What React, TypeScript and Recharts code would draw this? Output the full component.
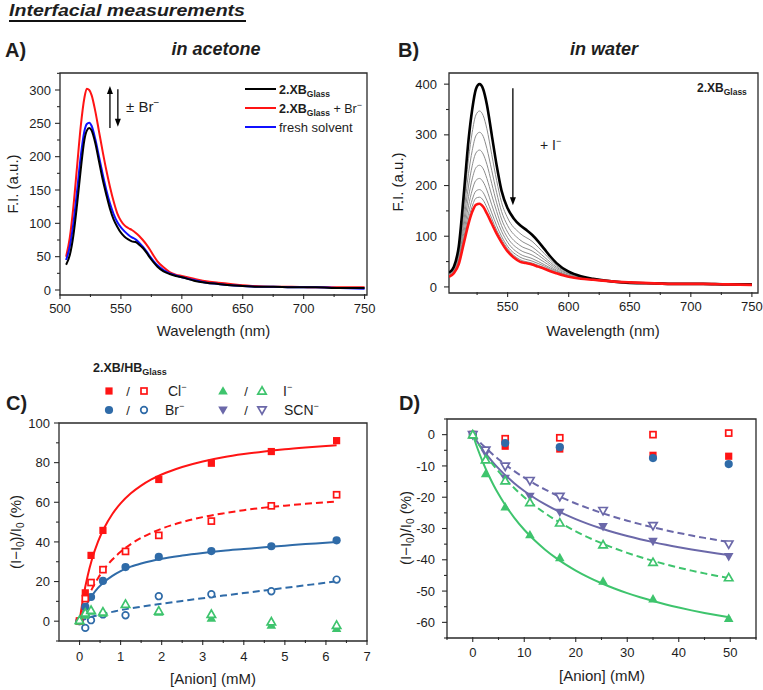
import React from 'react';
import { ComposedChart, Line, Scatter, XAxis, YAxis, ReferenceArea, ReferenceLine } from 'recharts';

const FONT = '"Liberation Sans", Arial, Helvetica, sans-serif';
const INK = '#1e1e1e';
const AXIS = '#2a2a2a';
const RED = '#ff1414';
const BLUE = '#2f6ba8';
const GREEN = '#3ec46d';
const PURPLE = '#6b68a9';
const GREY = '#8c8c8c';

// ---------- A) film emission in acetone ----------
const acetoneNm = [505, 508, 511, 514, 517, 520, 522, 524, 526, 529, 532, 535, 538, 541, 544, 547, 550, 553, 556, 559, 562, 565, 568, 571, 574, 577, 580, 585, 590, 595, 600, 610, 620, 630, 640, 650, 660, 675, 690, 710, 730, 750];
const acetoneFilm = [38, 52, 82, 128, 180, 225, 239, 243, 239, 220, 193, 166, 143, 122, 106, 95, 86, 80, 76, 73, 72, 68, 63, 56, 48, 41, 35, 28, 24, 21, 19, 14, 11, 9, 7, 6, 5, 5, 4, 4, 3, 3];
const acetoneFilmBr = [50, 78, 125, 185, 245, 288, 302, 300, 292, 268, 238, 208, 180, 155, 133, 115, 104, 97, 93, 90, 86, 81, 75, 68, 60, 51, 43, 34, 27, 23, 21, 17, 13, 11, 9, 7, 6, 5, 5, 4, 4, 4];
const acetoneFresh = [45, 65, 100, 148, 200, 238, 249, 251, 246, 226, 200, 174, 150, 130, 114, 102, 94, 88, 83, 79, 76, 71, 65, 58, 50, 43, 37, 30, 25, 22, 19, 15, 11, 9, 7, 6, 5, 5, 4, 4, 3, 2];
const acetoneXMajor = [500, 550, 600, 650, 700, 750];
const acetoneXMinor = [525, 575, 625, 675, 725];
const acetoneYMajor = [0, 50, 100, 150, 200, 250, 300];
const acetoneYMinor = [25, 75, 125, 175, 225, 275, 325];

// ---------- B) iodide titration in water ----------
const waterNm = [502, 506, 510, 514, 518, 521, 524, 527, 530, 533, 537, 541, 545, 550, 555, 560, 565, 570, 575, 580, 585, 590, 600, 610, 620, 635, 650, 670, 690, 710, 730, 750];
const waterStart = [28, 40, 80, 180, 290, 350, 390, 400, 390, 360, 300, 240, 190, 155, 135, 122, 113, 103, 90, 75, 60, 47, 30, 21, 16, 11, 8, 7, 6, 6, 5, 5];
const waterEnd = [20, 27, 45, 85, 125, 148, 162, 164, 158, 145, 125, 105, 88, 70, 58, 50, 47, 44, 40, 36, 31, 27, 20, 16, 14, 11, 9, 7, 6, 6, 5, 4];
const waterStepNm = [502, 506, 510, 514, 518, 521, 524, 527, 530, 533, 537, 541, 545, 550, 560, 570, 580, 590, 600, 620, 650, 700, 750];
const waterSteps = [
  [26, 37, 72, 159, 253, 305, 339, 347, 338, 312, 261, 210, 167, 136, 106, 90, 66, 42, 28, 16, 9, 6, 5],
  [25, 35, 66, 142, 224, 269, 298, 305, 297, 273, 230, 186, 149, 121, 93, 79, 59, 39, 26, 15, 9, 6, 5],
  [24, 33, 61, 128, 199, 239, 264, 270, 262, 242, 204, 166, 134, 108, 82, 71, 54, 36, 25, 15, 9, 6, 5],
  [23, 31, 56, 116, 178, 213, 235, 240, 233, 214, 181, 149, 121, 97, 73, 63, 49, 33, 23, 14, 9, 6, 5],
  [22, 30, 52, 105, 160, 191, 210, 214, 207, 191, 162, 134, 110, 88, 65, 56, 44, 31, 22, 14, 9, 6, 5],
  [21, 29, 49, 96, 145, 172, 189, 192, 186, 171, 146, 121, 100, 80, 59, 51, 41, 29, 21, 14, 9, 6, 4],
  [20, 28, 47, 90, 134, 159, 175, 177, 171, 157, 135, 112, 94, 75, 54, 47, 38, 28, 21, 14, 9, 6, 4],
];
const waterXMajor = [550, 600, 650, 700, 750];
const waterXMinor = [525, 575, 625, 675, 725];
const waterYMajor = [0, 100, 200, 300, 400];
const waterYMinor = [50, 150, 250, 350];

// ---------- C) halide binding in acetone ----------
const concC = [0, 0.14, 0.28, 0.57, 1.12, 1.93, 3.21, 4.67, 6.26];
const clXB_C = [0, 14.3, 33.2, 45.8, null, 71.5, 79.7, 85.6, 91.1];
const clHB_C = [0, 11.4, 19.5, 26, 35.2, 43.3, 50.5, 58.2, 63.8];
const brXB_C = [0, 7.2, 12.2, 20.3, 27.3, 32.4, 35.4, 37.8, 40.8];
const brHB_C = [0, -3.4, 0.5, 3.4, 3.0, 12.6, 13.6, 15.1, 21];
const iXB_C = [0, 3, 5, 4, 8.5, 4.5, 1.5, -2, -3.7];
const iHB_C = [0.5, 4.2, 5.5, 4.7, 8.6, 5.2, 3.5, -0.3, -2];
const fitConcC = [0, 0.1, 0.2, 0.3, 0.45, 0.6, 0.8, 1.0, 1.25, 1.5, 1.75, 2.0, 2.5, 3.0, 3.5, 4.0, 4.5, 5.0, 5.5, 6.0, 6.26];
const clXBFit = [0, 13.1, 23.1, 31.0, 40.1, 47.0, 54.1, 59.4, 64.5, 68.4, 71.5, 74.0, 77.8, 80.6, 82.7, 84.3, 85.6, 86.7, 87.6, 88.4, 88.8];
const clHBFit = [0, 6.4, 11.7, 16.2, 21.7, 26.3, 31.1, 35.0, 38.9, 42.0, 44.5, 46.7, 50.0, 52.5, 54.4, 56.0, 57.3, 58.3, 59.2, 60.0, 60.4];
const brXBFit = [0, 5.5, 9.5, 12.8, 16.8, 19.8, 22.9, 25.3, 27.5, 29.1, 30.4, 31.5, 33.1, 34.4, 35.5, 36.4, 37.3, 38.1, 38.9, 39.6, 40.0];
const brHBFit = [0, 0.8, 1.5, 2.2, 3.0, 3.8, 4.7, 5.6, 6.5, 7.3, 8.1, 8.8, 10.2, 11.6, 12.9, 14.2, 15.5, 16.8, 18.1, 19.4, 20.1];
const concCXMajor = [0, 1, 2, 3, 4, 5, 6, 7];
const concCXMinor = [0.5, 1.5, 2.5, 3.5, 4.5, 5.5, 6.5];
const concCYMajor = [0, 20, 40, 60, 80, 100];
const concCYMinor = [-10, 10, 30, 50, 70, 90];

// ---------- D) anion binding in water ----------
const concDHalide = [0, 6.3, 16.9, 35, 49.7];
const clXB_D = [0, -3.7, -4.6, -6.6, -6.9];
const clHB_D = [0, -1.3, -1.0, 0, 0.5];
const brXB_D = [0, -2.7, -4.0, -7.5, -9.4];
const concD = [0, 2.5, 6.3, 11.1, 16.9, 25.3, 35, 49.7];
const scnXB_D = [0, -6, -14, -19.7, -24.8, -29.4, -34.1, -39];
const scnHB_D = [0, -5.0, -10.1, -14.7, -19.8, -24.3, -29.1, -35];
const iXB_D = [0, -12.5, -23.1, -32, -39.3, -46.8, -52.5, -58.7];
const iHB_D = [0, -8, -14.7, -21.7, -28.2, -35.2, -40.8, -45.7];
const fitConcD = [0, 1, 2, 3, 4, 5, 6, 8, 10, 12, 14, 16, 18, 20, 22.5, 25, 27.5, 30, 32.5, 35, 37.5, 40, 42.5, 45, 47.5, 50];
const iXBFit = [0, -4.75, -8.94, -12.67, -16.0, -19.0, -21.71, -26.43, -30.4, -33.78, -36.69, -39.23, -41.45, -43.43, -45.6, -47.5, -49.18, -50.67, -52.0, -53.2, -54.29, -55.27, -56.17, -57.0, -57.76, -58.46];
const iHBFit = [0, -2.72, -5.23, -7.56, -9.71, -11.72, -13.6, -17.0, -20.0, -22.67, -25.05, -27.2, -29.14, -30.91, -32.9, -34.69, -36.31, -37.78, -39.12, -40.34, -41.46, -42.5, -43.46, -44.35, -45.17, -45.95];
const scnXBFit = [0, -2.57, -4.91, -7.04, -9.0, -10.8, -12.46, -15.43, -18.0, -20.25, -22.24, -24.0, -25.58, -27.0, -28.59, -30.0, -31.26, -32.4, -33.43, -34.36, -35.22, -36.0, -36.72, -37.38, -38.0, -38.57];
const scnHBFit = [0, -1.77, -3.44, -5.0, -6.47, -7.86, -9.17, -11.58, -13.75, -15.71, -17.5, -19.13, -20.63, -22.0, -23.57, -25.0, -26.3, -27.5, -28.6, -29.62, -30.56, -31.43, -32.24, -33.0, -33.71, -34.38];
const concDXMajor = [0, 10, 20, 30, 40, 50];
const concDXMinor = [-5, 5, 15, 25, 35, 45, 55];
const concDYMajor = [0, -10, -20, -30, -40, -50, -60];
const concDYMinor = [5, -5, -15, -25, -35, -45, -55, -65];

type Pt = { x: number; y: number };
const pairs = (xs: number[], ys: (number | null)[]): Pt[] =>
  xs.map((x, i) => ({ x, y: ys[i] as number })).filter((p) => p.y !== null && p.y !== undefined);

// Axes are 1px thick boxes; the tick callback gets the outer edge, so the
// bottom axis shifts back by that pixel to sit on the plot border.
const makeTick = (majors: number[], orient: 'x' | 'y', labelGap: number) => (props: any) => {
  const { x, payload } = props;
  const v = payload.value as number;
  const major = majors.some((m) => Math.abs(m - v) < 1e-9);
  const len = major ? 5 : 3;
  if (orient === 'x') {
    const y = props.y - 1;
    return (
      <g>
        <line x1={x} x2={x} y1={y} y2={y + len} stroke={AXIS} strokeWidth={1.1} />
        {major && (
          <text x={x} y={y + labelGap} textAnchor="middle" fontSize={13} fontFamily={FONT} fill={INK}>
            {String(v)}
          </text>
        )}
      </g>
    );
  }
  const y = props.y;
  return (
    <g>
      <line x1={x} x2={x - len} y1={y} y2={y} stroke={AXIS} strokeWidth={1.1} />
      {major && (
        <text x={x - labelGap} y={y + 4.6} textAnchor="end" fontSize={13} fontFamily={FONT} fill={INK}>
          {String(v)}
        </text>
      )}
    </g>
  );
};

type Kind = 'square' | 'circle' | 'up' | 'down';
const Marker = ({ cx, cy, kind, color, filled, s = 1 }: { cx?: number; cy?: number; kind: Kind; color: string; filled: boolean; s?: number }) => {
  if (cx == null || cy == null) return null;
  const fill = filled ? color : '#ffffff';
  const stroke = filled ? 'none' : color;
  const sw = filled ? 0 : 1.7;
  if (kind === 'square') {
    const h = (filled ? 3.6 : 3.0) * s;
    return <rect x={cx - h} y={cy - h} width={2 * h} height={2 * h} fill={fill} stroke={stroke} strokeWidth={sw} />;
  }
  if (kind === 'circle') {
    return <circle cx={cx} cy={cy} r={(filled ? 4.1 : 3.3) * s} fill={fill} stroke={stroke} strokeWidth={sw} />;
  }
  const a = (filled ? 4.8 : 4.2) * s;
  const d = kind === 'up' ? 1 : -1;
  const pts = `${cx},${cy - d * a} ${cx - a},${cy + d * a * 0.75} ${cx + a},${cy + d * a * 0.75}`;
  return <polygon points={pts} fill={fill} stroke={stroke} strokeWidth={sw} strokeLinejoin="miter" />;
};

const shapeOf = (kind: Kind, color: string, filled: boolean) => (p: any) => (
  <Marker cx={p.cx} cy={p.cy} kind={kind} color={color} filled={filled} />
);

const Arrow = (p: any) => {
  const { x1, y1, x2, y2 } = p;
  const dir = y2 < y1 ? -1 : 1;
  return (
    <g>
      <line x1={x1} y1={y1} x2={x2} y2={y2 - dir * 6} stroke="#000" strokeWidth={1.3} />
      <polygon points={`${x2},${y2} ${x2 - 3},${y2 - dir * 8} ${x2 + 3},${y2 - dir * 8}`} fill="#000" />
    </g>
  );
};

type AxesSpec = {
  xd: [number, number];
  yd: [number, number];
  xMajor: number[];
  xMinor: number[];
  yMajor: number[];
  yMinor: number[];
  xGap: number;
  yGap: number;
};

const axes = (a: AxesSpec) => [
  <XAxis
    key="xa"
    type="number"
    dataKey="x"
    domain={a.xd}
    allowDataOverflow
    ticks={[...a.xMajor, ...a.xMinor]}
    interval={0}
    height={1}
    tickSize={0}
    tickMargin={0}
    tickLine={false}
    axisLine={false}
    tick={makeTick(a.xMajor, 'x', a.xGap)}
  />,
  <YAxis
    key="ya"
    type="number"
    dataKey="y"
    domain={a.yd}
    allowDataOverflow
    ticks={[...a.yMajor, ...a.yMinor]}
    interval={0}
    width={1}
    tickSize={0}
    tickMargin={0}
    tickLine={false}
    axisLine={false}
    tick={makeTick(a.yMajor, 'y', a.yGap)}
  />,
  <ReferenceArea
    key="frame"
    x1={a.xd[0]}
    x2={a.xd[1]}
    y1={a.yd[0]}
    y2={a.yd[1]}
    fill="none"
    fillOpacity={0}
    stroke={AXIS}
    strokeWidth={1.3}
    ifOverflow="visible"
  />,
];

const Box = ({ left, top, children }: { left: number; top: number; children: React.ReactNode }) => (
  <div style={{ position: 'absolute', left, top }}>{children}</div>
);

const lineProps = { dataKey: 'y', dot: false, activeDot: false, isAnimationActive: false, type: 'monotone' as const };

function PanelA() {
  const spec: AxesSpec = {
    xd: [500, 752], yd: [-7.5, 325.5],
    xMajor: acetoneXMajor, xMinor: acetoneXMinor, yMajor: acetoneYMajor, yMinor: acetoneYMinor,
    xGap: 19, yGap: 9,
  };
  return (
    <Box left={0} top={60}>
      <ComposedChart width={380} height={280} margin={{ top: 13, right: 13, bottom: 44, left: 59 }}>
        {axes(spec)}
        <Line {...lineProps} data={pairs(acetoneNm, acetoneFilmBr)} stroke={RED} strokeWidth={2} />
        <Line {...lineProps} data={pairs(acetoneNm, acetoneFresh)} stroke="#1010ff" strokeWidth={2} />
        <Line {...lineProps} data={pairs(acetoneNm, acetoneFilm)} stroke="#000" strokeWidth={2} />
        <ReferenceLine segment={[{ x: 541, y: 243 }, { x: 541, y: 306 }]} shape={Arrow} />
        <ReferenceLine segment={[{ x: 547.5, y: 301 }, { x: 547.5, y: 245 }]} shape={Arrow} />
      </ComposedChart>
    </Box>
  );
}

function PanelB() {
  const spec: AxesSpec = {
    xd: [502, 755], yd: [-12, 422],
    xMajor: waterXMajor, xMinor: waterXMinor, yMajor: waterYMajor, yMinor: waterYMinor,
    xGap: 19, yGap: 12,
  };
  return (
    <Box left={380} top={60}>
      <ComposedChart width={383} height={280} margin={{ top: 13, right: 5, bottom: 46, left: 68 }}>
        {axes(spec)}
        {waterSteps.map((s, i) => (
          <Line key={`step${i}`} {...lineProps} data={pairs(waterStepNm, s)} stroke={GREY} strokeWidth={1} />
        ))}
        <Line {...lineProps} data={pairs(waterNm, waterStart)} stroke="#000" strokeWidth={2.6} />
        <Line {...lineProps} data={pairs(waterNm, waterEnd)} stroke={RED} strokeWidth={2.6} />
        <ReferenceLine segment={[{ x: 554.3, y: 392 }, { x: 554.3, y: 161 }]} shape={Arrow} />
      </ComposedChart>
    </Box>
  );
}

function PanelC() {
  const spec: AxesSpec = {
    xd: [-0.5, 7], yd: [-10, 100],
    xMajor: concCXMajor, xMinor: concCXMinor, yMajor: concCYMajor, yMinor: concCYMinor,
    xGap: 21, yGap: 9,
  };
  const dash = '7 4';
  return (
    <Box left={0} top={400}>
      <ComposedChart width={380} height={290} margin={{ top: 23, right: 13, bottom: 48, left: 58 }}>
        {axes(spec)}
        <Line {...lineProps} data={pairs(fitConcC, brHBFit)} stroke={BLUE} strokeWidth={2} strokeDasharray={dash} />
        <Line {...lineProps} data={pairs(fitConcC, brXBFit)} stroke={BLUE} strokeWidth={2} />
        <Line {...lineProps} data={pairs(fitConcC, clHBFit)} stroke={RED} strokeWidth={2} strokeDasharray={dash} />
        <Line {...lineProps} data={pairs(fitConcC, clXBFit)} stroke={RED} strokeWidth={2} />
        <Scatter data={pairs(concC, brHB_C)} isAnimationActive={false} shape={shapeOf('circle', BLUE, false)} />
        <Scatter data={pairs(concC, brXB_C)} isAnimationActive={false} shape={shapeOf('circle', BLUE, true)} />
        <Scatter data={pairs(concC, clXB_C)} isAnimationActive={false} shape={shapeOf('square', RED, true)} />
        <Scatter data={pairs(concC, clHB_C)} isAnimationActive={false} shape={shapeOf('square', RED, false)} />
        <Scatter data={pairs(concC, iXB_C)} isAnimationActive={false} shape={shapeOf('up', GREEN, true)} />
        <Scatter data={pairs(concC, iHB_C)} isAnimationActive={false} shape={shapeOf('up', GREEN, false)} />
      </ComposedChart>
    </Box>
  );
}

function PanelD() {
  const spec: AxesSpec = {
    xd: [-5, 55], yd: [-65, 5],
    xMajor: concDXMajor, xMinor: concDXMinor, yMajor: concDYMajor, yMinor: concDYMinor,
    xGap: 20, yGap: 12,
  };
  const dash = '7 4';
  return (
    <Box left={380} top={400}>
      <ComposedChart width={383} height={290} margin={{ top: 19, right: 7, bottom: 51, left: 66 }}>
        {axes(spec)}
        <Line {...lineProps} data={pairs(fitConcD, scnHBFit)} stroke={PURPLE} strokeWidth={2} strokeDasharray={dash} />
        <Line {...lineProps} data={pairs(fitConcD, scnXBFit)} stroke={PURPLE} strokeWidth={2} />
        <Line {...lineProps} data={pairs(fitConcD, iHBFit)} stroke={GREEN} strokeWidth={2} strokeDasharray={dash} />
        <Line {...lineProps} data={pairs(fitConcD, iXBFit)} stroke={GREEN} strokeWidth={2} />
        <Scatter data={pairs(concDHalide, clXB_D)} isAnimationActive={false} shape={shapeOf('square', RED, true)} />
        <Scatter data={pairs(concDHalide, clHB_D)} isAnimationActive={false} shape={shapeOf('square', RED, false)} />
        <Scatter data={pairs(concDHalide, brXB_D)} isAnimationActive={false} shape={shapeOf('circle', BLUE, true)} />
        <Scatter data={pairs(concD, scnXB_D)} isAnimationActive={false} shape={shapeOf('down', PURPLE, true)} />
        <Scatter data={pairs(concD, scnHB_D)} isAnimationActive={false} shape={shapeOf('down', PURPLE, false)} />
        <Scatter data={pairs(concD, iXB_D)} isAnimationActive={false} shape={shapeOf('up', GREEN, true)} />
        <Scatter data={pairs(concD, iHB_D)} isAnimationActive={false} shape={shapeOf('up', GREEN, false)} />
      </ComposedChart>
    </Box>
  );
}

const RatioLabel = ({ x, y }: { x: number; y: number }) => (
  <text transform={`translate(${x},${y}) rotate(-90)`} textAnchor="middle" fontSize={15} fill={INK}>
    (I−I<tspan fontSize={10} dy={3}>0</tspan>
    <tspan dy={-3}>)/I</tspan>
    <tspan fontSize={10} dy={3}>0</tspan>
    <tspan dy={-3}> (%)</tspan>
  </text>
);

function Annotations() {
  const legendA = [
    { y: 89, color: '#000' },
    { y: 108, color: RED },
    { y: 127, color: '#1010ff' },
  ];
  return (
    <svg width={763} height={690} style={{ position: 'absolute', left: 0, top: 0, pointerEvents: 'none' }} fontFamily={FONT} fill={INK}>
      <text x={9} y={16} fontSize={16.5} fontWeight="bold" fontStyle="italic" textLength={236} lengthAdjust="spacingAndGlyphs">
        Interfacial measurements
      </text>
      <line x1={9} x2={246} y1={21} y2={21} stroke="#111" strokeWidth={2} />

      <text x={5} y={57} fontSize={20} fontWeight="bold">A)</text>
      <text x={216} y={55} fontSize={18} fontWeight="bold" fontStyle="italic" textAnchor="middle">in acetone</text>
      <text x={398} y={57} fontSize={20} fontWeight="bold">B)</text>
      <text x={604} y={55} fontSize={18} fontWeight="bold" fontStyle="italic" textAnchor="middle">in water</text>
      <text x={6} y={410} fontSize={20} fontWeight="bold">C)</text>
      <text x={399} y={410} fontSize={20} fontWeight="bold">D)</text>

      <text x={213.5} y={336} fontSize={15} textAnchor="middle">Wavelength (nm)</text>
      <text x={603} y={336} fontSize={15} textAnchor="middle">Wavelength (nm)</text>
      <text x={213} y={684} fontSize={15} textAnchor="middle">[Anion] (mM)</text>
      <text x={602} y={681} fontSize={15} textAnchor="middle">[Anion] (mM)</text>
      <text transform="translate(18,184) rotate(-90)" textAnchor="middle" fontSize={15}>F.I. (a.u.)</text>
      <text transform="translate(403,182) rotate(-90)" textAnchor="middle" fontSize={15}>F.I. (a.u.)</text>
      <RatioLabel x={21} y={532} />
      <RatioLabel x={411} y={528} />

      {/* legend of panel A */}
      {legendA.map((r) => (
        <line key={r.y} x1={245} x2={276} y1={r.y} y2={r.y} stroke={r.color} strokeWidth={2} />
      ))}
      <text x={279} y={93.5} fontSize={12.5} fontWeight="bold">
        2.XB<tspan fontSize={8.5} dy={3}>Glass</tspan>
      </text>
      <text x={279} y={112.5} fontSize={12.5}>
        <tspan fontWeight="bold">2.XB</tspan>
        <tspan fontWeight="bold" fontSize={8.5} dy={3}>Glass</tspan>
        <tspan dy={-3}> + Br</tspan>
        <tspan fontSize={9} dy={-5}>−</tspan>
      </text>
      <text x={279} y={131.5} fontSize={13}>fresh solvent</text>
      <text x={126} y={112} fontSize={15}>
        ± Br<tspan fontSize={10} dy={-6}>−</tspan>
      </text>

      {/* panel B annotations */}
      <text x={697} y={92} fontSize={12} fontWeight="bold">
        2.XB<tspan fontSize={8.5} dy={3}>Glass</tspan>
      </text>
      <text x={540} y={150} fontSize={14}>
        + I<tspan fontSize={9} dy={-6}>−</tspan>
      </text>

      {/* legend of panels C and D */}
      <text x={93} y={372} fontSize={12.5} fontWeight="bold">
        2.XB/HB<tspan fontSize={9} dy={3}>Glass</tspan>
      </text>
      <Marker cx={109} cy={391} kind="square" color={RED} filled />
      <text x={128} y={396} fontSize={13} textAnchor="middle">/</text>
      <Marker cx={144} cy={391} kind="square" color={RED} filled={false} />
      <text x={168} y={396} fontSize={14}>
        Cl<tspan fontSize={9} dy={-6}>−</tspan>
      </text>
      <Marker cx={223} cy={391} kind="up" color={GREEN} filled />
      <text x={246} y={396} fontSize={13} textAnchor="middle">/</text>
      <Marker cx={262} cy={391} kind="up" color={GREEN} filled={false} />
      <text x={283} y={396} fontSize={14}>
        I<tspan fontSize={9} dy={-6}>−</tspan>
      </text>
      <Marker cx={109} cy={410} kind="circle" color={BLUE} filled />
      <text x={128} y={415} fontSize={13} textAnchor="middle">/</text>
      <Marker cx={144} cy={410} kind="circle" color={BLUE} filled={false} />
      <text x={165} y={415} fontSize={14}>
        Br<tspan fontSize={9} dy={-6}>−</tspan>
      </text>
      <Marker cx={223} cy={410} kind="down" color={PURPLE} filled />
      <text x={246} y={415} fontSize={13} textAnchor="middle">/</text>
      <Marker cx={262} cy={410} kind="down" color={PURPLE} filled={false} />
      <text x={284} y={415} fontSize={14}>
        SCN<tspan fontSize={9} dy={-6}>−</tspan>
      </text>
    </svg>
  );
}

export default function App() {
  return (
    <div style={{ position: 'absolute', left: 0, top: 0, width: 763, height: 690, background: '#fff', fontFamily: FONT, overflow: 'hidden' }}>
      <PanelA />
      <PanelB />
      <PanelC />
      <PanelD />
      <Annotations />
    </div>
  );
}
